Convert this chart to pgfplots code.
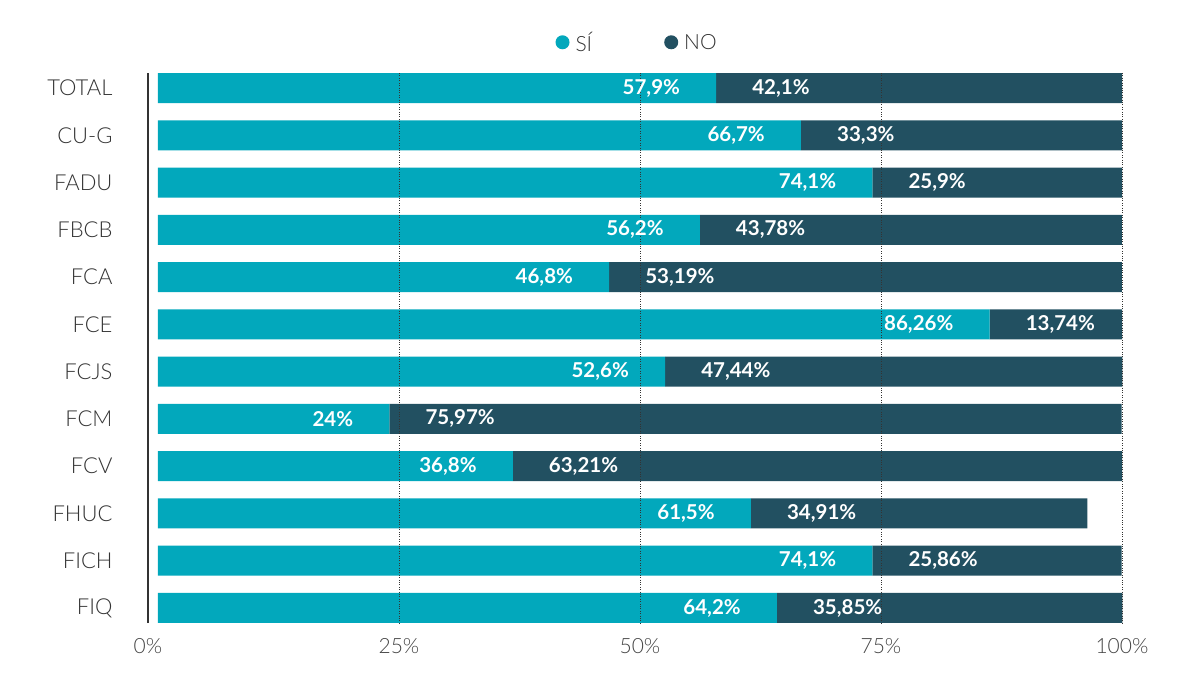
\documentclass[border=0pt]{standalone}
\usepackage{fontspec}
\setmainfont{Lato}
\newfontfamily\lightfont{Lato Light}
\usepackage{pgfplots}
\pgfplotsset{compat=1.18}
\definecolor{si}{HTML}{02A8BC}
\definecolor{no}{HTML}{225061}
\definecolor{txt}{HTML}{333333}
\definecolor{ticktxt}{HTML}{444444}
\tikzset{value label/.style={inner sep=0pt, text=white, font=\bfseries\fontsize{20.5}{24}\selectfont}}

\begin{document}
\begin{tikzpicture}[x=1pt,y=1pt]
\useasboundingbox (-158,-65.9) rectangle (1042,623.1);
\begin{axis}[
  at={(0,0)}, anchor=south west,
  scale only axis, width=964pt, height=550.2pt,
  xbar stacked, bar width=30pt,
  xmin=0, xmax=100,
  ymin=-0.32, ymax=11.32,
  ytick={0,...,11},
  yticklabels={FIQ,FICH,FHUC,FCV,FCM,FCJS,FCE,FCA,FBCB,FADU,CU-G,TOTAL},
  xtick={25,50,75,100},
  xticklabels={25\%,50\%,75\%,100\%},
  extra x ticks={0},
  extra x tick labels={0\%},
  extra x tick style={grid=none, xticklabel style={xshift=-10pt}},
  major tick length=0pt,
  axis lines*=left,
  x axis line style={draw=none},
  % the baseline sits a little left of where the bars begin
  y axis line style={draw=txt, line width=1.5pt, xshift=-10pt},
  xmajorgrids,
  major grid style={dotted, txt, line width=1pt},
  axis on top,
  clip=false,
  yticklabel style={font=\lightfont\fontsize{22}{26}\selectfont, text=txt, xshift=-42pt},
  xticklabel style={font=\lightfont\fontsize{21}{25}\selectfont, text=ticktxt, yshift=-12pt},
  /pgf/number format/.cd, use comma, fixed, precision=2, assume math mode=true, /pgfplots/.cd,
  legend style={draw=none, fill=none, at={(0.497,1)}, anchor=south, yshift=16pt,
    legend columns=2, font=\lightfont\fontsize{21}{25}\selectfont, text=txt,
    /tikz/every odd column/.append style={column sep=4pt},
    /tikz/every even column/.append style={column sep=70pt}},
  legend image code/.code={\fill[#1] (0pt,0pt) circle (7pt);},
]
% share answering "SÍ": label right-aligned inside the end of the segment
\addplot[fill=si, draw=none,
  visualization depends on={rawx \as \rawx},
  nodes near coords={\pgfmathprintnumber{\rawx}\%},
  every node near coord/.append style={value label, anchor=east,
    shift={(axis direction cs:\rawx/2,0)}, xshift=-36pt}]
  coordinates {
    (57.9,11) (66.7,10) (74.1,9) (56.2,8) (46.8,7) (86.26,6)
    (52.6,5) (24,4) (36.8,3) (61.5,2) (74.1,1) (64.2,0)
  };
\addlegendentry{SÍ}
% share answering "NO": label left-aligned after the start of the segment
\addplot[fill=no, draw=none,
  visualization depends on={rawx \as \rawx},
  nodes near coords={\pgfmathprintnumber{\rawx}\%},
  every node near coord/.append style={value label, anchor=west,
    shift={(axis direction cs:-\rawx/2,0)}, xshift=36pt}]
  coordinates {
    (42.1,11) (33.3,10) (25.9,9) (43.78,8) (53.19,7) (13.74,6)
    (47.44,5) (75.97,4) (63.21,3) (34.91,2) (25.86,1) (35.85,0)
  };
\addlegendentry{NO}
\end{axis}
\end{tikzpicture}
\end{document}
